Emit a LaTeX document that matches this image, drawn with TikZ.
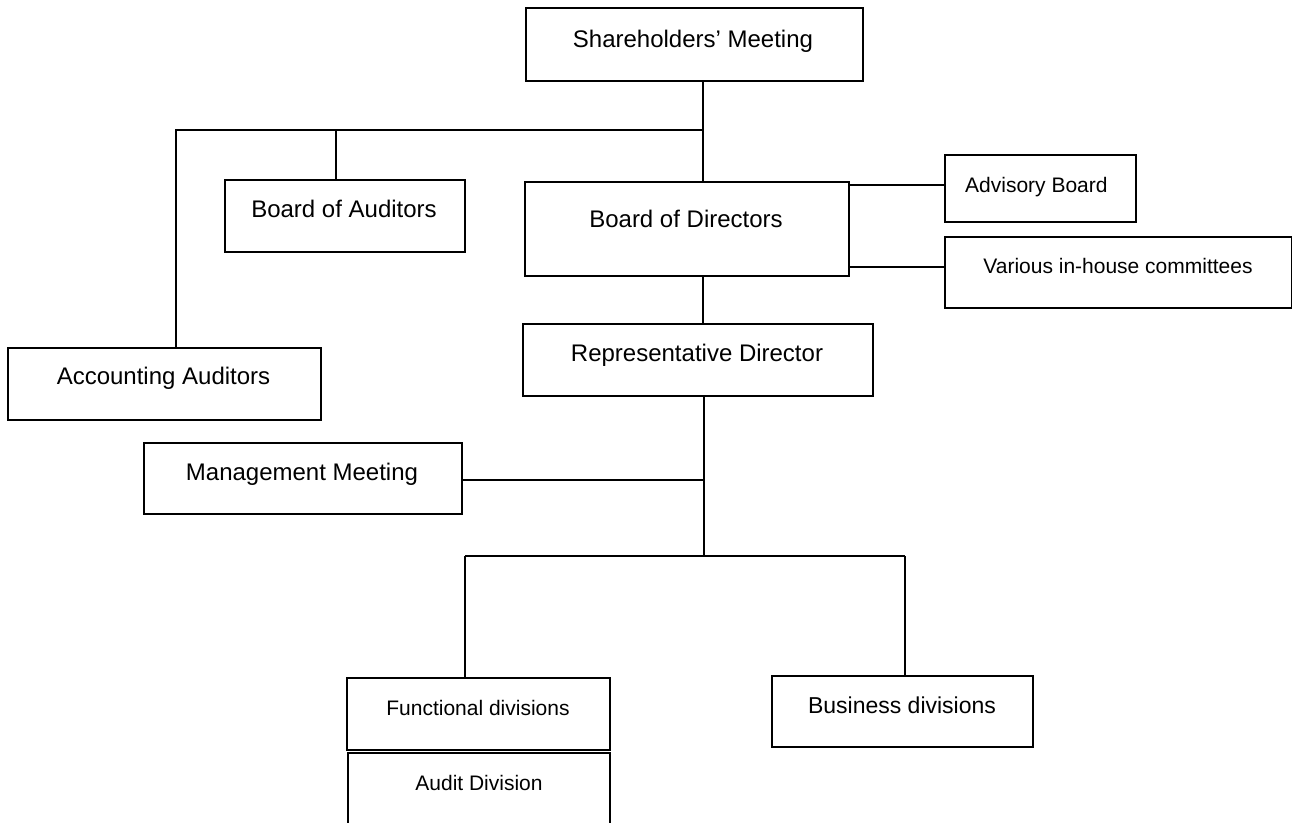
\documentclass[tikz,border=0pt]{standalone}
\usepackage{fontspec}
\setmainfont{Liberation Sans}
\begin{document}
\begin{tikzpicture}[x=1pt,y=-1pt,
  box/.style={draw, line width=1.8pt, inner sep=0pt, anchor=north west},
  txt/.style={anchor=base, inner sep=0pt, font=\fontsize{24}{28}\selectfont},
  stxt/.style={anchor=base, inner sep=0pt, font=\fontsize{21}{25}\selectfont},
  conn/.style={line width=1.7pt}]
\useasboundingbox (0,0) rectangle (1292,822);
% boxes
\node[box, minimum width=337pt, minimum height=73pt] (sh) at (525,7) {};
\node[box, minimum width=240pt, minimum height=72pt] (boa) at (224,179) {};
\node[box, minimum width=324pt, minimum height=94pt] (bod) at (524,181) {};
\node[box, minimum width=191pt, minimum height=67pt] (ab) at (944,154) {};
\node[box, minimum width=347pt, minimum height=71pt] (vc) at (944,236) {};
\node[box, minimum width=313pt, minimum height=72pt] (aa) at (7,347) {};
\node[box, minimum width=350pt, minimum height=72pt] (rd) at (522,323) {};
\node[box, minimum width=318pt, minimum height=71pt] (mm) at (143,442) {};
\node[box, minimum width=263pt, minimum height=72pt] (fd) at (346,677) {};
\node[box, minimum width=262pt, minimum height=90pt] (ad) at (347,752) {};
\node[box, minimum width=261pt, minimum height=71pt] (bd) at (771,675) {};
% texts
\node[txt] (sht) at (693,47) {Shareholders' Meeting};
\node[txt] (boat) at (344,217) {Board of Auditors};
\node[txt] (bodt) at (686,227) {Board of Directors};
\node[stxt, anchor=base west] (abt) at (965,192) {Advisory Board};
\node[stxt] (vct) at (1118,273) {Various in-house committees};
\node[txt] (aat) at (163.5,384) {Accounting Auditors};
\node[txt] (rdt) at (697,361) {Representative Director};
\node[txt] (mmt) at (302,480) {Management Meeting};
\node[stxt] (fdt) at (478,715) {Functional divisions};
\node[stxt] (adt) at (479,790) {Audit Division};
\node[txt, font=\fontsize{23}{27}\selectfont] (bdt) at (902,713) {Business divisions};
% junctions
\coordinate (j1) at (703,130);
\coordinate (c1) at (176,130);
\coordinate (j2) at (336,130);
\coordinate (k1) at (848,185);
\coordinate (k2) at (848,267);
\coordinate (j3) at (704,556);
\coordinate (j4) at (704,480);
\coordinate (l1) at (465,556);
\coordinate (r1) at (905,556);
% connectors
\draw[conn] (sh.south -| j1) -- (bod.north -| j1);
\draw[conn] (j1) -- (c1) -- (c1 |- aa.north);
\draw[conn] (j2) -- (j2 |- boa.north);
\draw[conn] (k1) -- (k1 -| ab.west);
\draw[conn] (k2) -- (k2 -| vc.west);
\draw[conn] (bod.south -| j1) -- (rd.north -| j1);
\draw[conn] (rd.south -| j3) -- (j3);
\draw[conn] (j4 -| mm.east) -- (j4);
\draw[conn] (l1) -- (r1);
\draw[conn] (l1) -- (l1 |- fd.north);
\draw[conn] (r1) -- (r1 |- bd.north);
\end{tikzpicture}
\end{document}
